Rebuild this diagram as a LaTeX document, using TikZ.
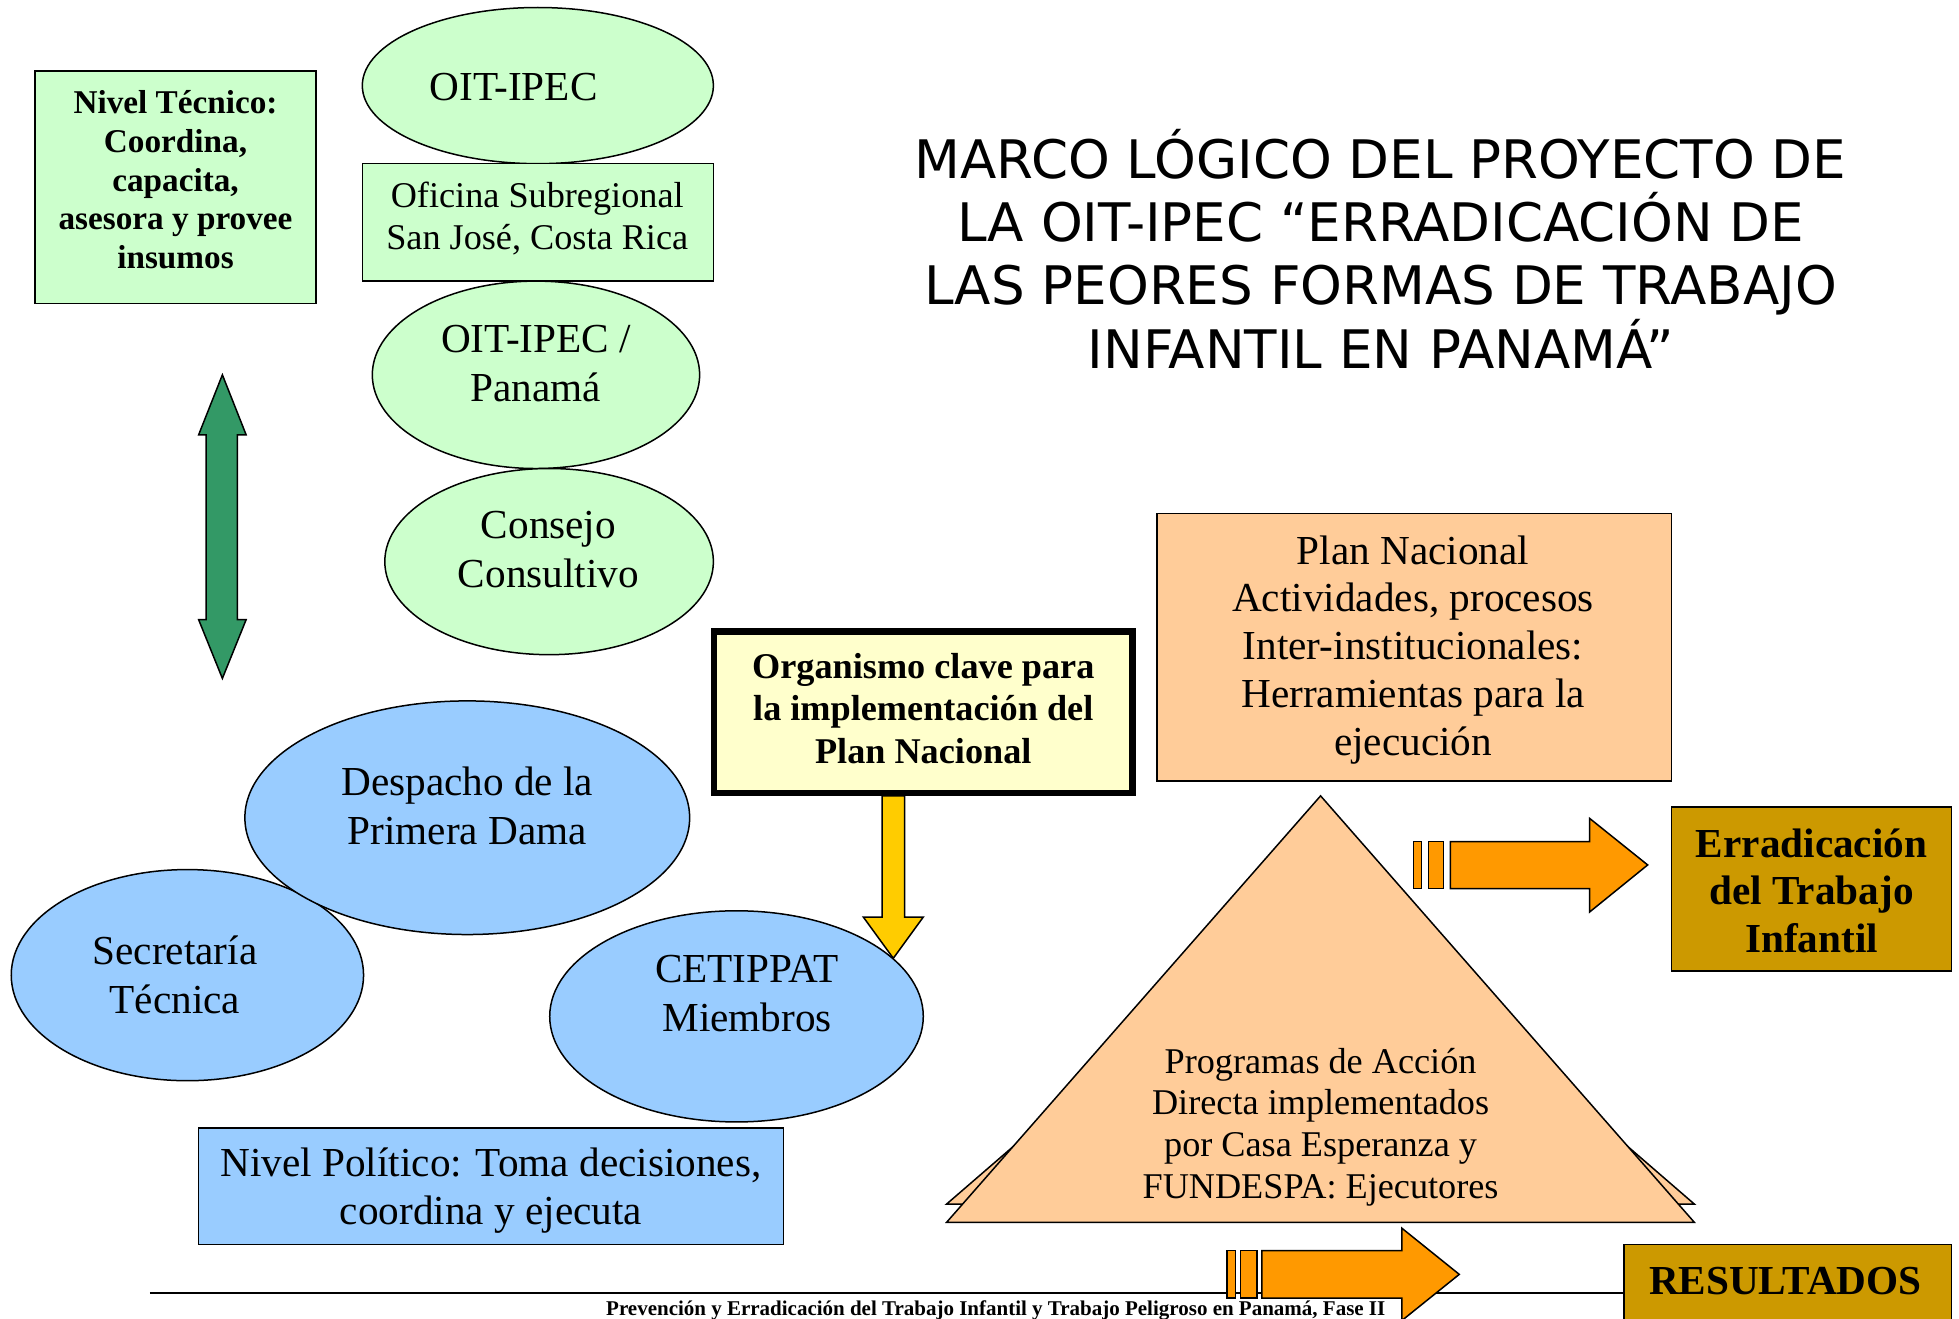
\documentclass[tikz,border=0pt]{standalone}
\usepackage{fontspec}
\setmainfont{Liberation Serif}
\newfontfamily\titlefont{DejaVu Sans}
\usetikzlibrary{shapes.geometric}
\definecolor{lgreen}{HTML}{CCFFCC}
\definecolor{dgreen}{HTML}{339966}
\definecolor{lblue}{HTML}{99CCFF}
\definecolor{lyellow}{HTML}{FFFFCC}
\definecolor{ayellow}{HTML}{FFCC00}
\definecolor{peach}{HTML}{FFCC99}
\definecolor{aorange}{HTML}{FF9900}
\definecolor{gold}{HTML}{CC9900}
\newcommand\fMain{\fontsize{16.5}{19.5}\selectfont}
\newcommand\fSmall{\fontsize{14.5}{16.7}\selectfont}
\newcommand\fTec{\fontsize{13.3}{15.5}\selectfont}
\newcommand\fOrg{\fontsize{14.5}{17}\selectfont}
\newcommand\fPlan{\fontsize{16.5}{19.1}\selectfont}
\newcommand\fTitle{\fontsize{21.25}{25.35}\selectfont}
\begin{document}
\begin{tikzpicture}[x=0.5pt,y=-0.5pt,
  box/.style={draw, line width=0.6pt, inner sep=0pt},
  ell/.style={draw, ellipse, line width=0.6pt, inner sep=0pt},
  txt/.style={align=center, inner sep=0pt},
  shp/.style={draw, line width=0.6pt, line join=miter}]
\useasboundingbox (0,0) rectangle (1568,1055);
\clip (0,0) rectangle (1568,1055);
\fill[white] (0,0) rectangle (1568,1055);

% Technical level
\node[box, fill=lgreen, minimum width=112.5pt, minimum height=93pt] (tec) at (140.5,150) {};
\node[txt, font=\fTec\bfseries] (tect) at (140.5,144) {Nivel Técnico:\\Coordina,\\capacita,\\asesora y provee\\insumos};

\node[ell, fill=lgreen, minimum width=140.5pt, minimum height=62.5pt] (oit1) at (430.5,68.5) {};
\node[txt, font=\fMain] (oit1t) at (411,70) {OIT-IPEC};
\node[box, fill=lgreen, minimum width=140.5pt, minimum height=47pt] (ofi) at (430.5,178) {};
\node[txt, font=\fSmall] (ofit) at (430,175) {Oficina Subregional\\San José, Costa Rica};
\node[ell, fill=lgreen, minimum width=131pt, minimum height=75pt] (oit2) at (429,300) {};
\node[txt, font=\fMain] (oit2t) at (429,291) {OIT-IPEC /\\Panamá};
\node[ell, fill=lgreen, minimum width=131.5pt, minimum height=74.5pt] (cons) at (439.5,449.5) {};
\node[txt, font=\fMain] (const) at (439,440) {Consejo\\Consultivo};

% green double arrow
\draw[shp, fill=dgreen] (178,300) -- (197,348) -- (190,348) -- (190,496) -- (197,496)
  -- (178,543) -- (159,496) -- (165,496) -- (165,348) -- (159,348) -- cycle;

% Political level
\node[ell, fill=lblue, minimum width=141pt, minimum height=84.5pt] (secr) at (150,780.5) {};
\node[ell, fill=lblue, minimum width=178pt, minimum height=93.5pt] (desp) at (374,654.5) {};
\node[txt, font=\fMain] (despt) at (374,645) {Despacho de la\\Primera Dama};
\node[txt, font=\fMain] (secrt) at (140,780) {Secretaría\\Técnica};
\node[ell, fill=lblue, minimum width=149.5pt, minimum height=84.5pt] (ceti) at (589.5,813.5) {};
\node[txt, font=\fMain] (cetit) at (598,795) {CETIPPAT\\Miembros};
\node[box, fill=lblue, minimum width=234pt, minimum height=46.5pt] (pol) at (393,949.5) {};
\node[txt, font=\fMain] (polt) at (393,953) {Nivel Político: Toma decisiones,\\coordina y ejecuta};

% key organism
\node[draw, line width=2.5pt, fill=lyellow, minimum width=167.5pt, minimum height=64.5pt, inner sep=0pt] (org) at (739,570) {};
\node[txt, font=\fOrg\bfseries] (orgt) at (739,567) {Organismo clave para\\la implementación del\\Plan Nacional};
\draw[shp, fill=ayellow] (706,637) -- (724,637) -- (724,734) -- (739,734) -- (715,767)
  -- (691,734) -- (706,734) -- cycle;

% Plan Nacional
\node[box, fill=peach, minimum width=206pt, minimum height=107pt] (plan) at (1132,518) {};
\node[txt, font=\fPlan] (plant) at (1131,520) {Plan Nacional\\Actividades, procesos\\Inter-institucionales:\\Herramientas para la\\ejecución};

% pyramid
\draw[shp, fill=peach] (757.7,963.7) -- (1057,705) -- (1356.1,963.7) -- cycle;
\draw[shp, fill=peach] (757.7,978.3) -- (1057,637) -- (1356.1,978.3) -- cycle;
\node[txt, font=\fSmall] (prog) at (1057,902) {Programas de Acción\\Directa implementados\\por Casa Esperanza y\\FUNDESPA: Ejecutores};

% upper orange arrow
\draw[shp, fill=aorange] (1131.5,673.7) rectangle (1137.9,711.3);
\draw[shp, fill=aorange] (1143.5,673.7) rectangle (1155.5,711.3);
\draw[shp, fill=aorange] (1160.8,673.7) -- (1272.3,673.7) -- (1272.3,655) -- (1318.8,692.3)
  -- (1272.3,730) -- (1272.3,711.3) -- (1160.8,711.3) -- cycle;

% outcome box
\node[box, fill=gold, minimum width=112pt, minimum height=65.5pt] (erra) at (1450,711.5) {};
\node[txt, font=\fPlan\bfseries] (errat) at (1450,713) {Erradicación\\del Trabajo\\Infantil};

% footer
\node[box, fill=gold, minimum width=131pt, minimum height=40pt] (res) at (1431,1036) {};
\node[txt, font=\fMain\bfseries] (rest) at (1429,1025) {RESULTADOS};
\coordinate (fl) at (120,1035);
\draw[line width=1pt] (fl) -- (res.west |- fl);
\node[txt, font=\fontsize{8.4}{10}\selectfont\bfseries] (foot) at (797,1049) {Prevención y Erradicación del Trabajo Infantil y Trabajo Peligroso en Panamá, Fase II};

% lower orange arrow
\draw[shp, fill=aorange] (982,1001) rectangle (989,1039);
\draw[shp, fill=aorange] (993,1001) rectangle (1006,1039);
\draw[shp, fill=aorange] (1010,1001) -- (1122,1001) -- (1122,983) -- (1168,1020)
  -- (1122,1057) -- (1122,1039) -- (1010,1039) -- cycle;

% title
\node[txt, font=\titlefont\fTitle] (title) at (1105,199) {MARCO LÓGICO DEL PROYECTO DE\\LA OIT-IPEC “ERRADICACIÓN DE\\LAS PEORES FORMAS DE TRABAJO\\INFANTIL EN PANAMÁ”};
\end{tikzpicture}
\end{document}
